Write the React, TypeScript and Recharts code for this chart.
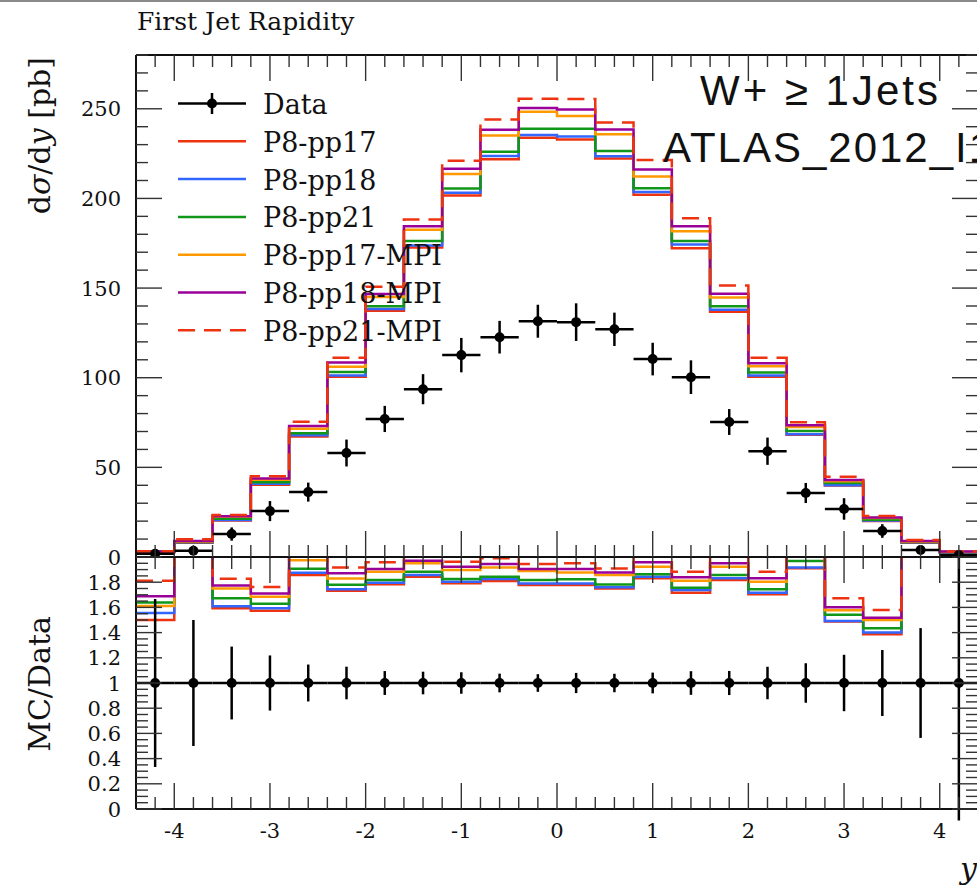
import React from "react";
import { ComposedChart, Line, Scatter, ErrorBar, XAxis, YAxis } from "recharts";

// rapidity bins, 0.4 wide
const binEdges = [
  -4.4, -4.0, -3.6, -3.2, -2.8, -2.4, -2.0, -1.6, -1.2, -0.8, -0.4, 0, 0.4, 0.8, 1.2, 1.6, 2.0, 2.4, 2.8, 3.2,
  3.6, 4.0, 4.4,
];

// measured dsigma/dy [pb] and its uncertainty
const dataValues = [
  1.8, 3.5, 12.8, 25.6, 36.2, 58.0, 77.0, 93.6, 112.6, 122.6, 131.5, 131.0, 127.0, 110.4, 100.3, 75.3, 59.0, 35.7,
  26.8, 14.5, 3.9, 1.1,
];
const dataErrors = [
  1.2, 1.75, 3.7, 5.6, 5.3, 7.5, 7.3, 8.4, 9.6, 9.1, 9.2, 10.5, 9.3, 9.1, 9.4, 7.2, 7.6, 5.6, 6.0, 3.8, 1.7, 1.2,
];

// Pythia 8 tunes
const pp17 = [
  2.7, 8.0, 20.4, 40.3, 67.2, 100.5, 137.3, 172.6, 201.7, 221.9, 233.8, 232.9, 222.3, 202.1, 172.2, 136.8, 100.5,
  68.2, 39.9, 20.1, 8.0, 2.6,
];
const pp18 = [
  2.8, 8.2, 20.6, 40.8, 67.9, 101.2, 138.3, 173.8, 203.1, 223.7, 235.4, 234.5, 223.5, 203.6, 174.3, 137.9, 101.3,
  68.4, 40.0, 20.3, 8.2, 2.7,
];
const pp21 = [
  2.95, 8.4, 21.4, 41.7, 69.0, 103.2, 139.9, 176.2, 205.5, 226.1, 238.9, 238.8, 226.4, 205.7, 176.2, 139.8, 102.9,
  70.3, 41.3, 20.8, 8.4, 2.8,
];
const pp17Mpi = [
  2.9, 8.6, 22.4, 43.1, 71.5, 106.1, 145.0, 182.5, 213.6, 235.1, 248.4, 246.0, 235.8, 212.3, 181.7, 144.8, 106.4,
  72.5, 42.3, 21.75, 8.6, 2.9,
];
const pp18Mpi = [
  3.04, 8.9, 22.7, 43.8, 73.0, 108.5, 146.7, 184.5, 216.5, 238.3, 250.5, 249.6, 238.5, 216.2, 184.5, 146.8, 108.0,
  73.5, 42.9, 22.0, 8.9, 3.0,
];
const pp21Mpi = [
  3.26, 9.9, 23.4, 45.1, 75.4, 111.2, 150.8, 188.2, 221.0, 244.0, 255.6, 255.5, 242.4, 221.5, 188.9, 151.5, 111.1,
  75.1, 44.8, 22.9, 9.5, 3.1,
];

const seriesNames = ["P8-pp17", "P8-pp18", "P8-pp21", "P8-pp17-MPI", "P8-pp18-MPI", "P8-pp21-MPI"];
const seriesColors = ["#ee3311", "#3366ff", "#109618", "#ff9900", "#990099", "#ee3311"];
const seriesValues = [pp17, pp18, pp21, pp17Mpi, pp18Mpi, pp21Mpi];

// tick labels
const xLabels = [-4, -3, -2, -1, 0, 1, 2, 3, 4];
const mainLabels = [0, 50, 100, 150, 200, 250];
const ratioLabels = [0, 0.2, 0.4, 0.6, 0.8, 1, 1.2, 1.4, 1.6, 1.8];

const round = (v: number, d: number) => Math.round(v * 10 ** d) / 10 ** d;
const xTicks = Array.from({ length: 43 }, (_, i) => round(-4.2 + i * 0.2, 1));
const mainTicks = Array.from({ length: 29 }, (_, i) => i * 10);
const ratioTicks = Array.from({ length: 41 }, (_, i) => round(i * 0.05, 2));

const series = seriesNames.map((name, i) => ({
  key: `s${i}`,
  name,
  color: seriesColors[i],
  dashed: name === "P8-pp21-MPI",
  values: seriesValues[i],
}));

// histogram rows: one per low edge, plus the last upper edge
const stepRows = (ratio: boolean) =>
  binEdges.map((edge, i) => {
    const bin = Math.min(i, dataValues.length - 1);
    const row: Record<string, number> = { x: edge };
    series.forEach((s) => {
      row[s.key] = ratio ? s.values[bin] / dataValues[bin] : s.values[bin];
    });
    return row;
  });

const mainRows = stepRows(false);
const ratioRows = stepRows(true);

const points = dataValues.map((v, i) => ({
  x: (binEdges[i] + binEdges[i + 1]) / 2,
  y: v,
  ex: (binEdges[i + 1] - binEdges[i]) / 2,
  ey: dataErrors[i],
}));
const ratioPoints = dataValues.map((v, i) => ({
  x: points[i].x,
  y: 1,
  ex: points[i].ex,
  ey: dataErrors[i] / v,
}));

const SERIF = "DejaVu Serif";
const SANS = "Liberation Sans";

const isMajor = (v: number, step: number) => Math.abs(v / step - Math.round(v / step)) < 1e-6;

const fmt = (v: number) => (v === 0 ? "0" : String(round(v, 1)));

// inward tick marks on every side of a panel, labels on left and bottom
const FrameTick = (props: any) => {
  const { x, y, payload, side, majorStep, labels } = props;
  const v = payload.value;
  const major = isMajor(v, majorStep);
  const len = major ? 26 : 12;
  let x2 = x;
  let y2 = y;
  if (side === "bottom") y2 = y - len;
  if (side === "top") y2 = y + len;
  if (side === "left") x2 = x + len;
  if (side === "right") x2 = x - len;
  const showLabel = labels && labels.some((l: number) => Math.abs(l - v) < 1e-6);
  return (
    <g>
      <line x1={x} y1={y} x2={x2} y2={y2} stroke="#333" strokeWidth={1.4} />
      {showLabel && side === "left" && (
        <text x={x - 15} y={y} dy="0.36em" textAnchor="end" fontFamily={SERIF} fontSize={21} fill="#111">
          {fmt(v)}
        </text>
      )}
      {showLabel && side === "bottom" && (
        <text x={x} y={y + 29} textAnchor="middle" fontFamily={SERIF} fontSize={21} fill="#111">
          {fmt(v)}
        </text>
      )}
    </g>
  );
};

const frameLine = { stroke: "#111", strokeWidth: 2 };

const DataDot = (p: any) => <circle cx={p.cx} cy={p.cy} r={5} fill="#000" />;

const renderLines = () =>
  series.map((s) => (
    <Line
      key={s.key}
      xAxisId="bottom"
      yAxisId="left"
      dataKey={s.key}
      type="stepAfter"
      stroke={s.color}
      strokeWidth={2.5}
      strokeDasharray={s.dashed ? "17 9" : undefined}
      dot={false}
      activeDot={false}
      isAnimationActive={false}
    />
  ));

const renderAxes = (
  domain: number[],
  yTicks: number[],
  yMajor: number,
  yLabels: number[],
  bottomHeight: number,
  xLabeled: boolean
) => [
  <XAxis
    key="xb"
    xAxisId="bottom"
    dataKey="x"
    type="number"
    orientation="bottom"
    domain={[-4.4, 4.4]}
    ticks={xTicks}
    interval={0}
    height={bottomHeight}
    tickSize={0}
    tickMargin={0}
    axisLine={frameLine}
    tickLine={false}
    allowDataOverflow
    tick={<FrameTick side="bottom" majorStep={1} labels={xLabeled ? xLabels : null} />}
  />,
  <XAxis
    key="xt"
    xAxisId="top"
    dataKey="x"
    type="number"
    orientation="top"
    domain={[-4.4, 4.4]}
    ticks={xTicks}
    interval={0}
    height={1}
    tickSize={0}
    tickMargin={0}
    axisLine={frameLine}
    tickLine={false}
    allowDataOverflow
    tick={<FrameTick side="top" majorStep={1} />}
  />,
  <YAxis
    key="yl"
    yAxisId="left"
    type="number"
    orientation="left"
    domain={domain}
    ticks={yTicks}
    interval={0}
    width={136}
    tickSize={0}
    tickMargin={0}
    axisLine={frameLine}
    tickLine={false}
    allowDataOverflow
    tick={<FrameTick side="left" majorStep={yMajor} labels={yLabels} />}
  />,
  <YAxis
    key="yr"
    yAxisId="right"
    type="number"
    orientation="right"
    domain={domain}
    ticks={yTicks}
    interval={0}
    width={8}
    tickSize={0}
    tickMargin={0}
    axisLine={frameLine}
    tickLine={false}
    allowDataOverflow
    tick={<FrameTick side="right" majorStep={yMajor} />}
  />,
];

const renderData = (pts: typeof points) => (
  <Scatter xAxisId="bottom" yAxisId="left" data={pts} dataKey="y" shape={DataDot} isAnimationActive={false}>
    <ErrorBar dataKey="ey" direction="y" width={0} stroke="#000" strokeWidth={2.5} />
    <ErrorBar dataKey="ex" direction="x" width={0} stroke="#000" strokeWidth={2.5} />
  </Scatter>
);

const legendTop = 103.5;
const legendStep = 37.8;

export default function App() {
  return (
    <div
      style={{
        position: "absolute",
        left: 0,
        top: 0,
        width: 977,
        height: 888,
        overflow: "hidden",
        background: "#fff",
      }}
    >
      <div style={{ position: "absolute", left: 0, top: 0, width: 977, height: 2, background: "#8a8a8a" }} />

      {/* lower panel first so the upper panel's "0" label stays visible */}
      <div style={{ position: "absolute", left: 0, top: 554 }}>
        <ComposedChart width={986} height={334} data={ratioRows} margin={{ top: 2, right: 0, bottom: 0, left: 0 }}>
          {renderAxes([0, 2], ratioTicks, 0.2, ratioLabels, 79, true)}
          {renderLines()}
          {renderData(ratioPoints)}
        </ComposedChart>
      </div>

      <div style={{ position: "absolute", left: 0, top: 0 }}>
        <ComposedChart width={986} height={580} data={mainRows} margin={{ top: 54, right: 0, bottom: 22, left: 0 }}>
          {renderAxes([0, 280], mainTicks, 50, mainLabels, 1, false)}
          {renderLines()}
          {renderData(points)}
        </ComposedChart>
      </div>

      <svg width={977} height={888} style={{ position: "absolute", left: 0, top: 0, pointerEvents: "none" }}>
        <text x={137} y={30} fontFamily={SERIF} fontSize={25} fill="#111">
          First Jet Rapidity
        </text>
        <text transform="translate(50,57) rotate(-90)" textAnchor="end" fontFamily={SERIF} fontSize={30} fill="#111">
          d<tspan fontStyle="italic">σ</tspan>/d<tspan fontStyle="italic">y</tspan> [pb]
        </text>
        <text transform="translate(50,684) rotate(-90)" textAnchor="middle" fontFamily={SERIF} fontSize={30} fill="#111">
          MC/Data
        </text>
        <text x={977} y={879} textAnchor="end" fontFamily={SERIF} fontStyle="italic" fontSize={30} fill="#111">
          y
        </text>

        <text x={700} y={105} fontFamily={SANS} fontSize={42} letterSpacing={3} fill="#111">
          W+ ≥ 1Jets
        </text>
        <text x={663} y={162} fontFamily={SANS} fontSize={42} letterSpacing={2} fill="#111">
          ATLAS_2012_I1083318
        </text>

        <g>
          <line x1={178} x2={246} y1={legendTop} y2={legendTop} stroke="#000" strokeWidth={2.5} />
          <line x1={212} x2={212} y1={legendTop - 10.5} y2={legendTop + 10.5} stroke="#000" strokeWidth={2.5} />
          <circle cx={212} cy={legendTop} r={5} fill="#000" />
          <text x={263} y={legendTop + 10.5} fontFamily={SERIF} fontSize={27} fill="#111">
            Data
          </text>
        </g>
        {series.map((s, i) => {
          const y = legendTop + legendStep * (i + 1);
          return (
            <g key={s.key}>
              <line
                x1={178}
                x2={246}
                y1={y}
                y2={y}
                stroke={s.color}
                strokeWidth={2.5}
                strokeDasharray={s.dashed ? "17 9" : undefined}
              />
              <text x={263} y={y + 10.5} fontFamily={SERIF} fontSize={27} fill="#111">
                {s.name}
              </text>
            </g>
          );
        })}
      </svg>
    </div>
  );
}
